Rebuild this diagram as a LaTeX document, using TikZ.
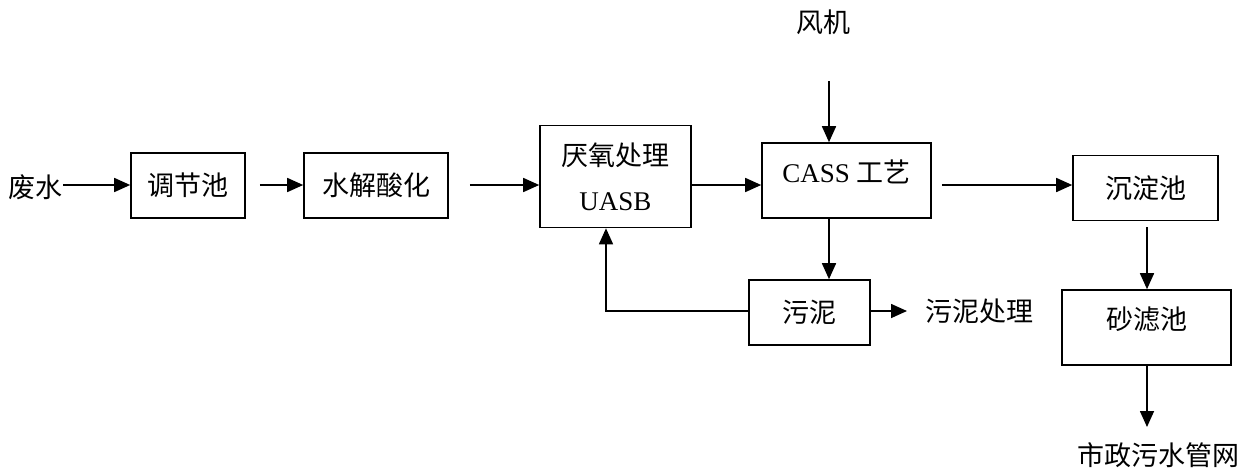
\documentclass[tikz,border=0pt]{standalone}
\usepackage{fontspec}
\setmainfont{Liberation Serif}
\newfontfamily\cjk{Noto Sans CJK SC}
\usetikzlibrary{arrows.meta}
\tikzset{
  box/.style={draw, line width=1.6pt, inner sep=0pt, align=center, font=\fontsize{27}{46}\selectfont},
  lbl/.style={inner sep=0pt, font=\cjk\fontsize{27}{30}\selectfont},
  arr/.style={line width=1.6pt, -{Triangle[length=16pt,width=14pt]}},
  ln/.style={line width=1.6pt}
}
\begin{document}
\begin{tikzpicture}[x=1pt,y=-1pt]
\useasboundingbox (0,0) rectangle (1251,472);
\coordinate (r) at (0,185);
\coordinate (cx) at (829,0);
\node[box, minimum width=114pt, minimum height=65pt] (tiaojie) at (188,185.5) {\cjk 调节池};
\node[box, minimum width=144pt, minimum height=65pt] (shuijie) at (376,185.5) {\cjk 水解酸化};
\node[box, minimum width=151pt, minimum height=102pt] (uasb) at (615.5,176.5) {\cjk 厌氧处理\\[-1pt]UASB};
\node[box, minimum width=169pt, minimum height=75pt, text depth=19pt] (cass) at (846.5,180.5) {CASS {\cjk 工艺}};
\node[box, minimum width=121pt, minimum height=65pt] (wuni) at (809.5,312.5) {\cjk 污泥};
\node[box, minimum width=145pt, minimum height=65pt] (chendian) at (1145.5,188) {\cjk 沉淀池};
\node[box, minimum width=169pt, minimum height=75pt, text depth=19pt] (shalv) at (1146.5,327.5) {\cjk 砂滤池};
\node[lbl] (feishui) at (36,187) {废水};
\node[lbl] (fengji) at (823,22) {风机};
\node[lbl, anchor=west] (wunichuli) at (925,311) {污泥处理};
\node[lbl] (shizheng) at (1158,455) {市政污水管网};
\coordinate (fj) at (829,81);
\coordinate (sz) at (1147,427);
% main line
\draw[arr] (feishui.east |- r) -- (r -| tiaojie.west);
\draw[arr, shorten <=14pt] (r -| tiaojie.east) -- (r -| shuijie.west);
\draw[arr, shorten <=21pt] (r -| shuijie.east) -- (r -| uasb.west);
\draw[arr] (r -| uasb.east) -- (r -| cass.west);
\draw[arr, shorten <=10pt] (r -| cass.east) -- (r -| chendian.west);
% blower
\draw[arr] (fj) -- (fj |- cass.north);
% sludge
\draw[arr] (cx |- cass.south) -- (cx |- wuni.north);
\draw[arr, shorten >=18pt] (wuni.east |- wunichuli.west) -- (wunichuli.west);
\draw[arr] (wuni.west |- wunichuli.west) -| ([xshift=-9.5pt]uasb.south);
% right column
\draw[arr, shorten <=6pt] (chendian.south -| sz) -- (sz |- shalv.north);
\draw[arr] (sz |- shalv.south) -- (sz);
\end{tikzpicture}
\end{document}
